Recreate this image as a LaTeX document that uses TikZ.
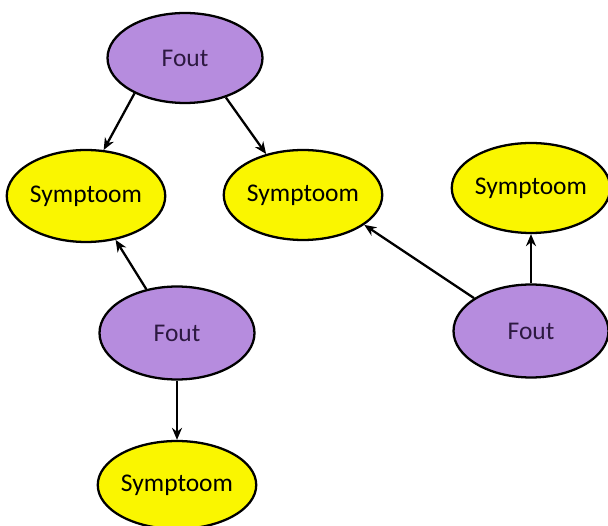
\documentclass[tikz,border=0pt]{standalone}
\usepackage{fontspec}
\setmainfont{Carlito}
\usetikzlibrary{arrows.meta,shapes.geometric}
\definecolor{foutpurple}{RGB}{182,140,222}
\definecolor{sympyellow}{RGB}{250,246,0}
\definecolor{foutink}{RGB}{45,25,65}
\tikzset{
  >={Stealth[length=2.4mm,width=2mm]},
  fout/.style={ellipse,draw,line width=1.3pt,fill=foutpurple,text=foutink,minimum width=3.1cm,minimum height=1.86cm,inner sep=0pt,font=\fontsize{14.5}{17}\selectfont},
  symp/.style={ellipse,draw,line width=1.3pt,fill=sympyellow,minimum width=3.12cm,minimum height=1.8cm,inner sep=0pt,font=\fontsize{14.5}{17}\selectfont},
  every picture/.style={line width=1.3pt},
}
\begin{document}
\begin{tikzpicture}[x=0.02cm,y=-0.02cm]
\useasboundingbox (0,0) rectangle (608,526);
\node[fout,minimum height=1.8cm] (f1) at (185,58){Fout};
\node[symp,minimum height=1.84cm] (s1) at (86,196){Symptoom};
\node[symp] (s2) at (303,195){Symptoom};
\node[symp,minimum width=3cm] (s3) at (531,188){Symptoom};
\node[fout] (f2) at (177,333){Fout};
\node[fout] (f3) at (531,331){Fout};
\node[symp,minimum height=1.76cm] (s4) at (177,485){Symptoom};
\draw[->] (f1.215)--(s1.69); \draw[->] (f1.316)--(s2.132);
\draw[->] (f2.125)--(s1.304); \draw[->] (f2.south)--(s4.north);
\draw[->] (f3.150)--(s2.334); \draw[->] (f3.north)--(s3.south);
\end{tikzpicture}
\end{document}
